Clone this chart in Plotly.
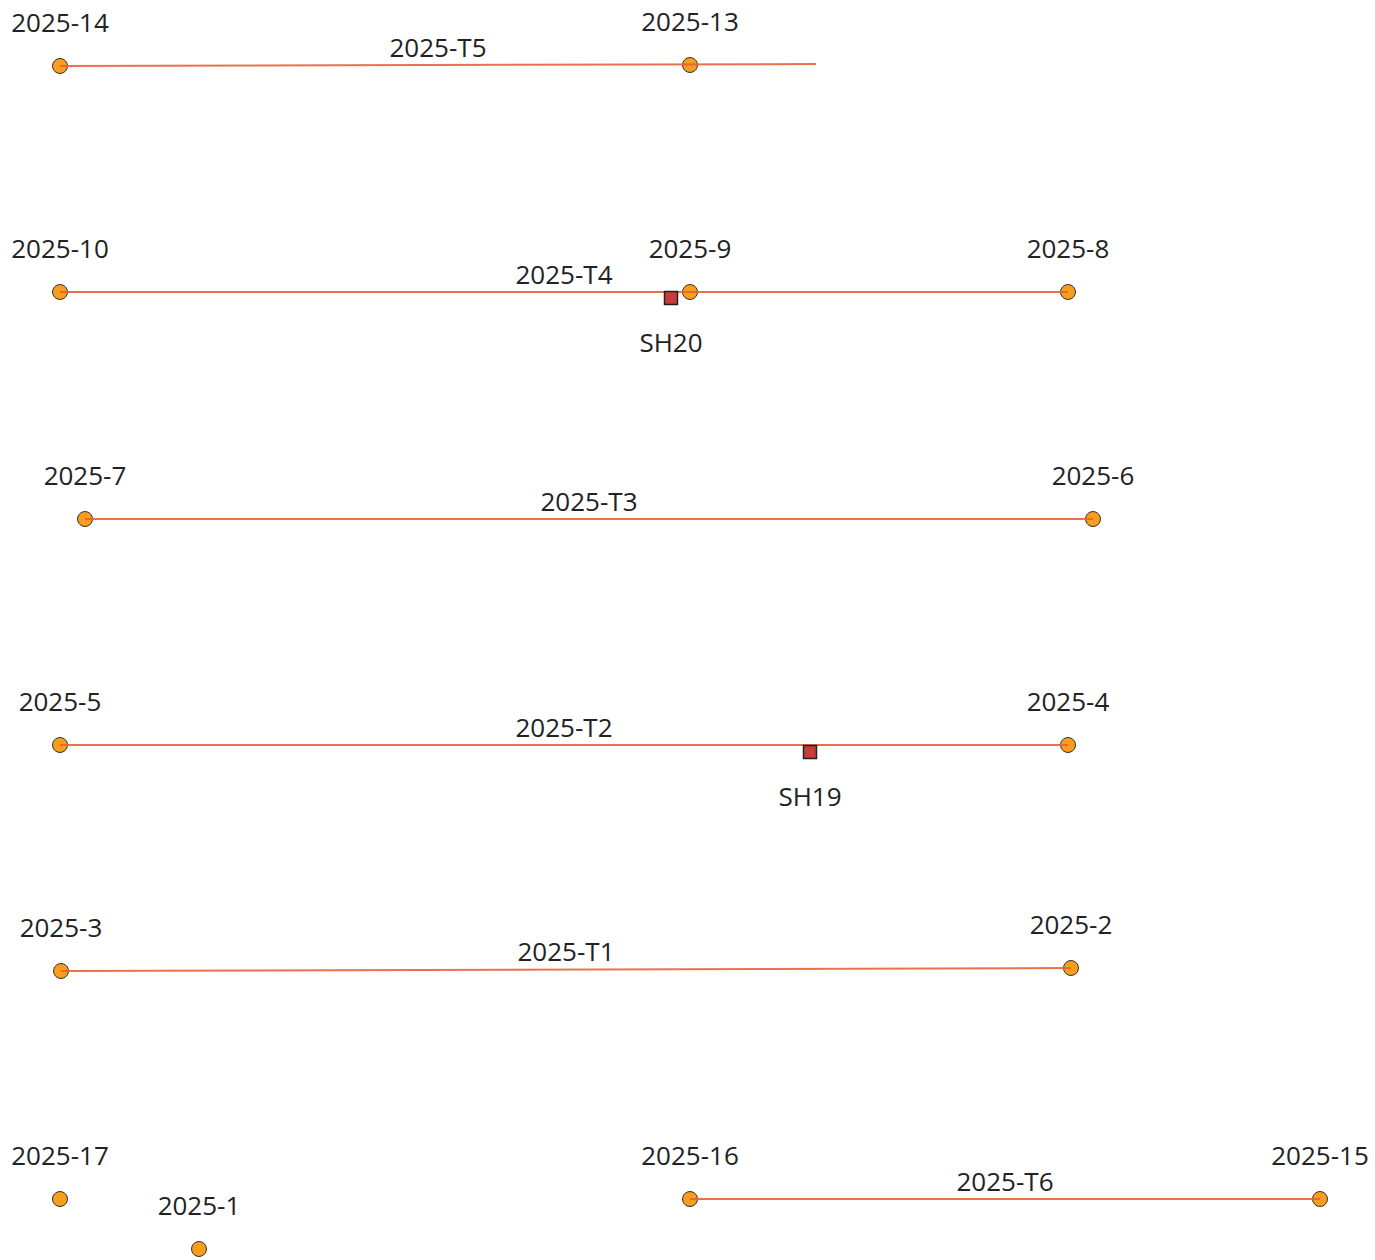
import plotly.graph_objects as go

# Node positions (layout units: x right, y down)
node_names = ["2025-14", "2025-13", "2025-10", "2025-9", "2025-8", "2025-7", "2025-6",
              "2025-5", "2025-4", "2025-3", "2025-2", "2025-17", "2025-1", "2025-16", "2025-15"]
node_x = [60, 690, 60, 690, 1068, 85, 1093, 60, 1068, 61, 1071, 60, 199, 690, 1320]
node_y = [66, 65, 292, 292, 292, 519, 519, 745, 745, 971, 968, 1199, 1249, 1199, 1199]

# Line segments
line_names = ["2025-T5", "2025-T4", "2025-T3", "2025-T2", "2025-T1", "2025-T6"]
line_x0 = [60, 60, 85, 60, 61, 690]
line_y0 = [66, 292, 519, 745, 971, 1199]
line_x1 = [816, 1068, 1093, 1068, 1071, 1320]
line_y1 = [64, 292, 519, 745, 968, 1199]

# Stations
station_names = ["SH20", "SH19"]
station_x = [671, 810]
station_y = [298, 752]

FONT = dict(family="Open Sans, Noto Sans, sans-serif", size=26, color="#222222")
LINE_COLOR = "rgba(232,98,58,0.9)"

fig = go.Figure()

# nodes (markers)
fig.add_trace(go.Scatter(
    x=node_x, y=node_y, mode="markers", cliponaxis=False,
    marker=dict(size=15, color="#f89d1c", line=dict(color="#333333", width=1)),
    hoverinfo="text", hovertext=node_names, showlegend=False))

# lines drawn over nodes
for name, xa, ya, xb, yb in zip(line_names, line_x0, line_y0, line_x1, line_y1):
    fig.add_trace(go.Scatter(
        x=[xa, xb], y=[ya, yb], mode="lines",
        line=dict(color=LINE_COLOR, width=2),
        hoverinfo="text", hovertext=name, showlegend=False))

# stations
fig.add_trace(go.Scatter(
    x=station_x, y=station_y, mode="markers", cliponaxis=False,
    marker=dict(symbol="square", size=13, color="#c93a3a", line=dict(color="#222222", width=1.5)),
    hoverinfo="text", hovertext=station_names, showlegend=False))

# node labels (above)
fig.add_trace(go.Scatter(
    x=node_x, y=[v - 41 for v in node_y], mode="text", text=node_names, cliponaxis=False,
    textposition="middle center", textfont=FONT, hoverinfo="skip", showlegend=False))

# line labels (above midpoint)
mid_x = [(a + b) / 2 for a, b in zip(line_x0, line_x1)]
mid_y = [(a + b) / 2 - 15 for a, b in zip(line_y0, line_y1)]
fig.add_trace(go.Scatter(
    x=mid_x, y=mid_y, mode="text", text=line_names, cliponaxis=False,
    textposition="middle center", textfont=FONT, hoverinfo="skip", showlegend=False))

# station labels (below)
fig.add_trace(go.Scatter(
    x=station_x, y=[v + 47 for v in station_y], mode="text", text=station_names, cliponaxis=False,
    textposition="middle center", textfont=FONT, hoverinfo="skip", showlegend=False))

W, H = 1375, 1260
fig.update_layout(
    width=W, height=H,
    margin=dict(l=0, r=0, t=0, b=0),
    paper_bgcolor="white", plot_bgcolor="white",
    xaxis=dict(range=[0, W], visible=False, fixedrange=True),
    yaxis=dict(range=[H, 0], visible=False, fixedrange=True),
)

# remove the default page margin so the figure fills the window exactly
fig.write_html("out.html",
               config={"displayModeBar": False},
               post_script="document.body.style.margin='0';document.body.style.overflow='hidden';")
